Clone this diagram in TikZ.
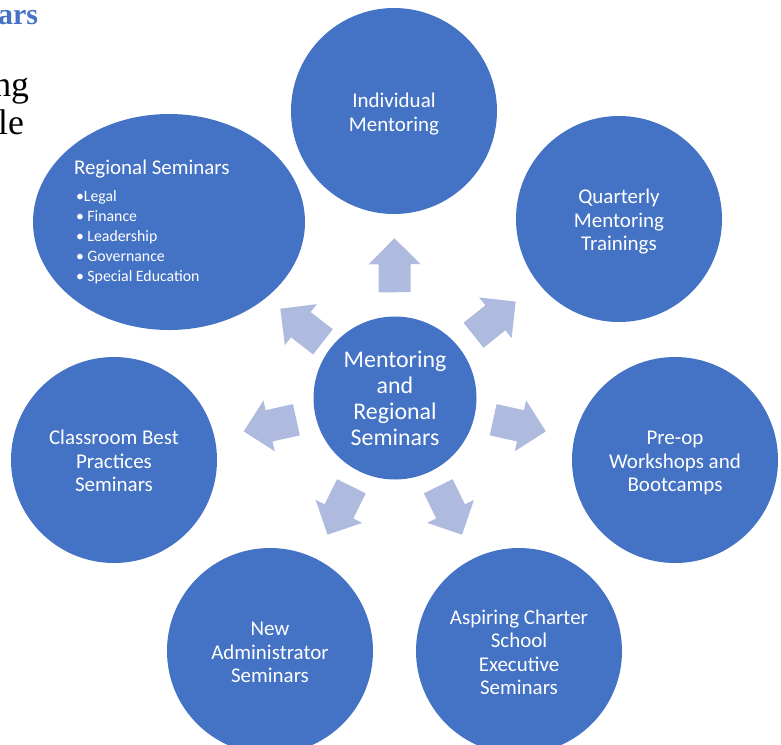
\documentclass[tikz,border=0pt]{standalone}
\usepackage{fontspec}
\setmainfont{Carlito}
\newfontfamily\pagefont{Liberation Serif}
\usetikzlibrary{shapes.geometric}
\definecolor{bubbleblue}{RGB}{68,114,196}
\definecolor{arrowblue}{RGB}{174,186,222}
\tikzset{pics/blockarrow/.style={code={\fill[arrowblue] (-27,-16) -- (1,-16) -- (1,-26) -- (27,0) -- (1,26) -- (1,16) -- (-27,16) -- cycle;}}}
% fixed first-line height and last-line depth, so every bubble centres its lines alike
\newcommand{\bubbletext}[1]{\rule{0pt}{1.05em}#1\rule[-0.25em]{0pt}{0.25em}}

\begin{document}
\begin{tikzpicture}[x=0.3mm, y=0.3mm]
	% Default action for each node
	\tikzstyle{every node}=[inner sep=0pt, outer sep=0pt];
	\tikzstyle{bubble}=[shape=circle, fill=bubbleblue, minimum size=61.8mm, align=center, text=white, font=\fontsize{17.9}{20}\selectfont];
	\tikzstyle{hubbubble}=[bubble, minimum size=48.9mm, font=\fontsize{20.4}{22.2}\selectfont];
	\tikzstyle{itemtext}=[text=white, anchor=base west, font=\fontsize{13.5}{17}\selectfont];
	\tikzstyle{pagetext}=[anchor=base east, font=\pagefont\fontsize{30.5}{32}\selectfont];

	\useasboundingbox (0,0) rectangle (781,-744);
	\clip (0,0) rectangle (781,-744);

	% Cut-off page text
	\node[pagetext, text=bubbleblue, font=\pagefont\bfseries\fontsize{25.6}{28}\selectfont] (headfrag) at (38,-24) {ars};
	\node[pagetext] (linefrag1) at (29,-96) {ng};
	\node[pagetext] (linefrag2) at (24,-134) {le};

	% Bubbles
	\node[hubbubble] (hub) at (395,-398) {Mentoring\\and\\Regional\\Seminars};
	\node[bubble] (individual) at (394,-111) {\bubbletext{Individual\\Mentoring}};
	\node[bubble] (quarterly) at (619,-219) {\bubbletext{Quarterly\\Mentoring\\Trainings}};
	\node[bubble] (preop) at (675,-460) {\bubbletext{Pre-op\\Workshops and\\Bootcamps}};
	\node[bubble] (aspiring) at (519,-651) {\bubbletext{Aspiring Charter\\School\\Executive\\Seminars}};
	\node[bubble] (newadmin) at (270,-651) {\bubbletext{New\\Administrator\\Seminars}};
	\node[bubble] (classroom) at (114,-460) {\bubbletext{Classroom Best\\Practices\\Seminars}};
	\node[bubble, shape=ellipse, minimum width=81.6mm, minimum height=64.8mm] (regional) at (169,-222) {};

	% Regional seminar topics
	\node[itemtext, font=\fontsize{17.9}{19.6}\selectfont] (regionaltitle) at (74,-174) {Regional Seminars};
	\foreach \topic [count=\i] in {\textbullet Legal, \textbullet\ Finance, \textbullet\ Leadership, \textbullet\ Governance, \textbullet\ Special Education}
		\node[itemtext] (topic\i) at (76,-181-20*\i) {\topic};

	% Arrows
	\path (hub) -- pic[pos=.5, sloped, allow upside down] {blockarrow} (individual);
	\path (hub) -- pic[pos=.45, sloped, allow upside down] {blockarrow} (quarterly);
	\path (hub) -- pic[pos=.45, sloped, allow upside down] {blockarrow} (preop);
	\path (hub) -- pic[pos=.45, sloped, allow upside down] {blockarrow} (aspiring);
	\path (hub) -- pic[pos=.45, sloped, allow upside down] {blockarrow} (newadmin);
	\path (hub) -- pic[pos=.45, sloped, allow upside down] {blockarrow} (classroom);
	\path (hub) -- pic[pos=.45, sloped, allow upside down] {blockarrow} (regional);
\end{tikzpicture}
\end{document}
